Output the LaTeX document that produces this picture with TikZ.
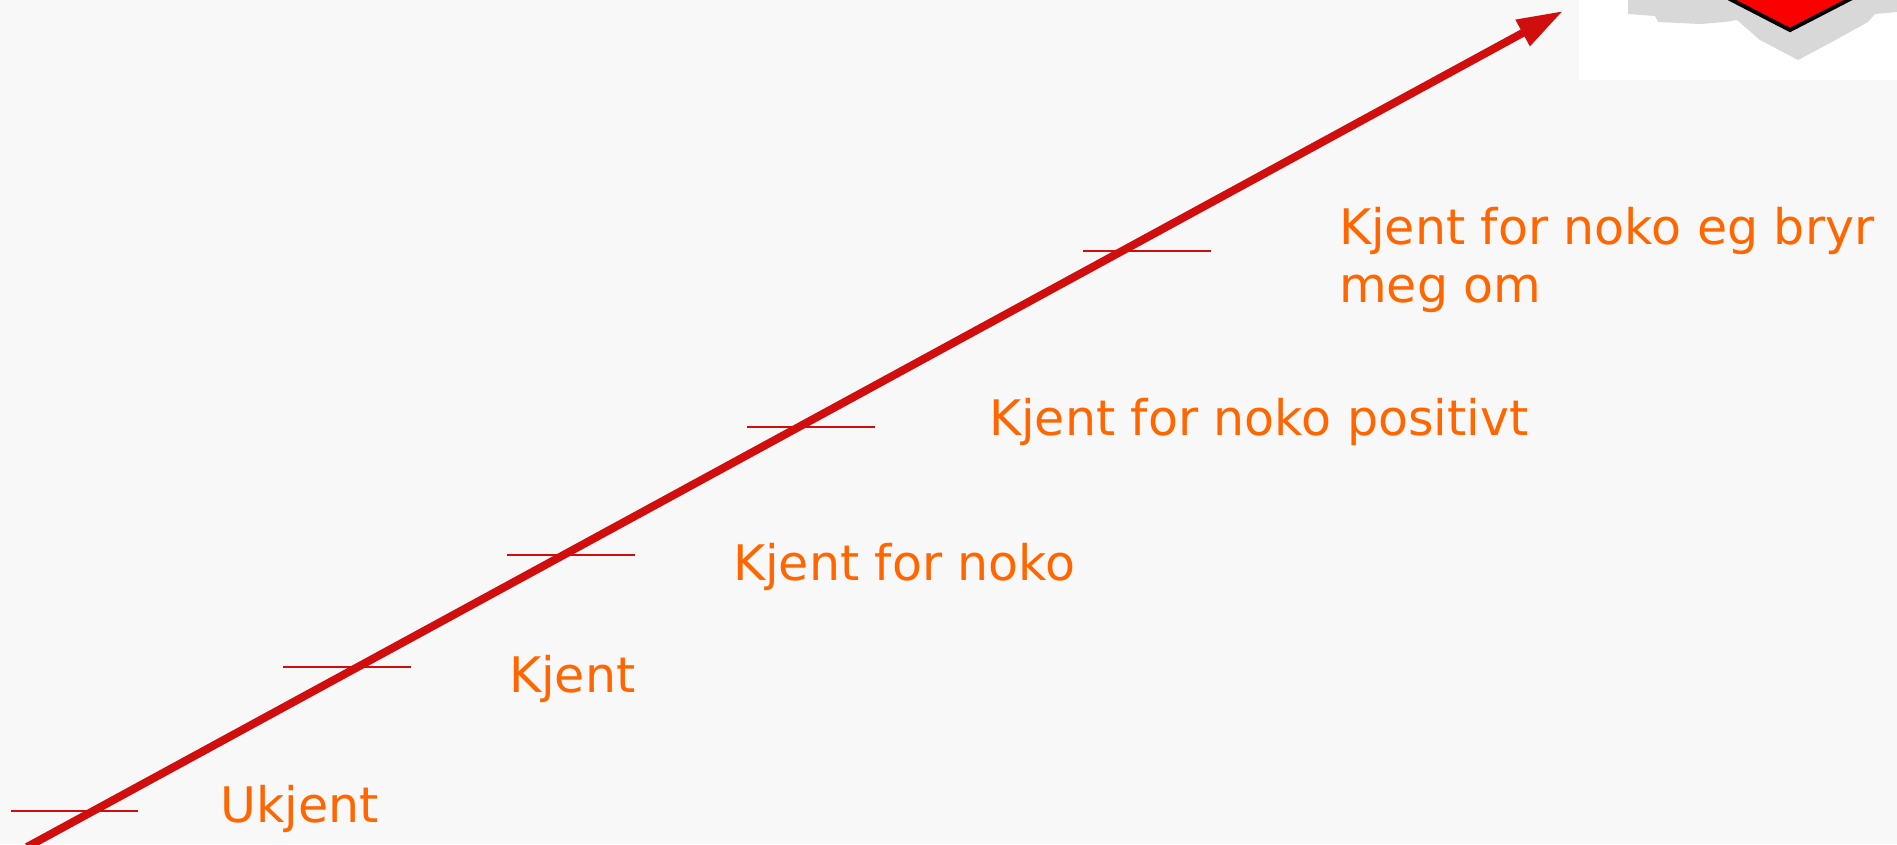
\documentclass[tikz,border=0pt]{standalone}
\usepackage{fontspec}
\setmainfont{DejaVu Sans}
\usetikzlibrary{arrows.meta}
\definecolor{bg}{RGB}{248,248,248}
\definecolor{arrowred}{RGB}{208,14,14}
\definecolor{labelorange}{RGB}{255,102,0}
\definecolor{shadowgrey}{RGB}{216,216,216}
\definecolor{diamondred}{RGB}{250,0,0}
\tikzset{
  levelmark/.style={draw=arrowred, line width=2pt},
  levellabel/.style={anchor=base west, inner sep=0pt, text=labelorange,
    font={\fontsize{49}{58}\selectfont}, align=left},
  risearrow/.style={draw=arrowred, line width=8pt,
    -{Triangle[length=46pt,width=28pt]}},
}
\begin{document}
\begin{tikzpicture}[x=1pt,y=-1pt]
\useasboundingbox (0,0) rectangle (1897,844);
\fill[bg] (0,0) rectangle (1897,844);

% picture fragment top right
\begin{scope}
  \clip (1579,0) rectangle (1897,80);
  \fill[white] (1579,0) rectangle (1897,80);
  \fill[shadowgrey] (1628,0) -- (1628,14) -- (1655,16) -- (1658,22) -- (1700,24)
     -- (1725,22) -- (1737,20) -- (1760,40) -- (1798,60) -- (1830,43)
     -- (1868,22) -- (1875,14) -- (1897,12) -- (1897,0) -- cycle;
  \fill[diamondred] (1728,-2) -- (1790,30) -- (1852,-2) -- cycle;
  \draw[black, line width=4pt, line join=miter] (1728,-2) -- (1790,30) -- (1852,-2);
\end{scope}

% tick marks
\coordinate (t1a) at (11,811);   \coordinate (t1b) at (138,811);
\coordinate (t2a) at (283,667);  \coordinate (t2b) at (411,667);
\coordinate (t3a) at (507,555);  \coordinate (t3b) at (635,555);
\coordinate (t4a) at (747,427);  \coordinate (t4b) at (875,427);
\coordinate (t5a) at (1083,251); \coordinate (t5b) at (1211,251);
\draw[levelmark] (t1a) -- (t1b);
\draw[levelmark] (t2a) -- (t2b);
\draw[levelmark] (t3a) -- (t3b);
\draw[levelmark] (t4a) -- (t4b);
\draw[levelmark] (t5a) -- (t5b);

% main arrow
\coordinate (arrowstart) at (27,847);
\coordinate (arrowtip) at (1563,11);
\draw[risearrow] (arrowstart) -- (arrowtip);

% labels
\node[levellabel] (l1) at (220,822) {Ukjent};
\node[levellabel] (l2) at (509,692) {Kjent};
\node[levellabel] (l3) at (733,580) {Kjent for noko};
\node[levellabel] (l4) at (989,435) {Kjent for noko positivt};
\node[levellabel] (l5) at (1339,302) {Kjent for noko eg bryr\\meg om};
\end{tikzpicture}
\end{document}
